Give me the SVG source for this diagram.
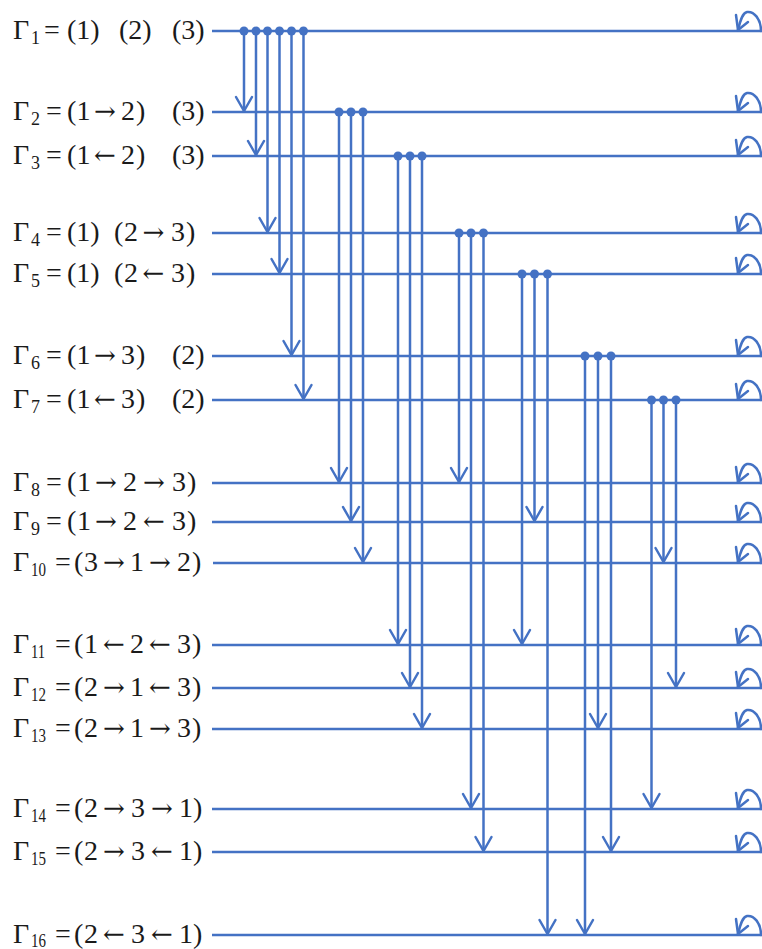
<svg xmlns="http://www.w3.org/2000/svg" width="762" height="949" viewBox="0 0 762 949">
<style>
.t{font-family:"Liberation Serif","Times New Roman",serif;font-size:28px;fill:#1a1a1a}
.s{font-family:"Liberation Serif","Times New Roman",serif;font-size:18px;fill:#1a1a1a}
.a{font-family:"DejaVu Serif","Liberation Serif",serif;font-size:26px}
.h{stroke:#4472C4;stroke-width:2.5;fill:none}
.v{stroke:#4472C4;stroke-width:2.5;fill:none;marker-end:url(#ah)}
.d{fill:#4472C4}
.lp{stroke:#4472C4;stroke-width:2.5;fill:none;stroke-linecap:round;stroke-linejoin:round}
</style>
<defs>
<marker id="ah" markerUnits="userSpaceOnUse" markerWidth="40" markerHeight="40" viewBox="-20 -20 40 40" refX="0" refY="0" orient="auto" overflow="visible">
<path d="M-14,-8 L0,0 L-14,8" fill="none" stroke="#4472C4" stroke-width="2.5" stroke-linejoin="round" stroke-linecap="round"/>
</marker>
<g id="loop">
<path class="lp" d="M761,0 C761,-12 754,-20 747,-19 C742,-18 740,-9 738,-1"/>
<path class="lp" d="M736,-16 L738,-1 L748,-9"/>
</g>
</defs>

<g id="G1">
<text class="t" x="13" y="38.5">Γ</text><text class="s" x="31" y="44">1</text>
<text class="t" x="44" y="38.5">=</text>
<text class="t" y="38.5"><tspan x="67">(1)</tspan><tspan x="119">(2)</tspan><tspan x="172">(3)</tspan></text>
<line class="h" x1="212" y1="31" x2="762" y2="31"/><use href="#loop" y="31"/>
</g>
<g id="G2">
<text class="t" x="13" y="119.5">Γ</text><text class="s" x="31" y="125">2</text>
<text class="t" x="46" y="119.5">=</text>
<text class="t" y="119.5"><tspan x="67">(</tspan><tspan x="76.5">1</tspan><tspan class="a" x="94">→</tspan><tspan x="121">2</tspan><tspan x="136">)</tspan><tspan x="172">(3)</tspan></text>
<line class="h" x1="212" y1="112" x2="762" y2="112"/><use href="#loop" y="112"/>
</g>
<g id="G3">
<text class="t" x="13" y="163.5">Γ</text><text class="s" x="31" y="169">3</text>
<text class="t" x="46" y="163.5">=</text>
<text class="t" y="163.5"><tspan x="67">(</tspan><tspan x="76.5">1</tspan><tspan class="a" x="94">←</tspan><tspan x="121">2</tspan><tspan x="136">)</tspan><tspan x="172">(3)</tspan></text>
<line class="h" x1="212" y1="156" x2="762" y2="156"/><use href="#loop" y="156"/>
</g>
<g id="G4">
<text class="t" x="13" y="240.5">Γ</text><text class="s" x="31" y="246">4</text>
<text class="t" x="46" y="240.5">=</text>
<text class="t" y="240.5"><tspan x="67">(1)</tspan><tspan x="114">(</tspan><tspan x="124">2</tspan><tspan class="a" x="142.5">→</tspan><tspan x="171">3</tspan><tspan x="186">)</tspan></text>
<line class="h" x1="212" y1="233" x2="762" y2="233"/><use href="#loop" y="233"/>
</g>
<g id="G5">
<text class="t" x="13" y="281.5">Γ</text><text class="s" x="31" y="287">5</text>
<text class="t" x="46" y="281.5">=</text>
<text class="t" y="281.5"><tspan x="67">(1)</tspan><tspan x="114">(</tspan><tspan x="124">2</tspan><tspan class="a" x="142.5">←</tspan><tspan x="171">3</tspan><tspan x="186">)</tspan></text>
<line class="h" x1="212" y1="274" x2="762" y2="274"/><use href="#loop" y="274"/>
</g>
<g id="G6">
<text class="t" x="13" y="363.5">Γ</text><text class="s" x="31" y="369">6</text>
<text class="t" x="46" y="363.5">=</text>
<text class="t" y="363.5"><tspan x="67">(</tspan><tspan x="76.5">1</tspan><tspan class="a" x="94">→</tspan><tspan x="121">3</tspan><tspan x="136">)</tspan><tspan x="172">(2)</tspan></text>
<line class="h" x1="212" y1="356" x2="762" y2="356"/><use href="#loop" y="356"/>
</g>
<g id="G7">
<text class="t" x="13" y="407.5">Γ</text><text class="s" x="31" y="413">7</text>
<text class="t" x="46" y="407.5">=</text>
<text class="t" y="407.5"><tspan x="67">(</tspan><tspan x="76.5">1</tspan><tspan class="a" x="94">←</tspan><tspan x="121">3</tspan><tspan x="136">)</tspan><tspan x="172">(2)</tspan></text>
<line class="h" x1="212" y1="400" x2="762" y2="400"/><use href="#loop" y="400"/>
</g>
<g id="G8">
<text class="t" x="13" y="490.5">Γ</text><text class="s" x="31" y="496">8</text>
<text class="t" x="46" y="490.5">=</text>
<text class="t" y="490.5"><tspan x="67">(</tspan><tspan x="77">1</tspan><tspan class="a" x="95">→</tspan><tspan x="123">2</tspan><tspan class="a" x="143">→</tspan><tspan x="172">3</tspan><tspan x="187">)</tspan></text>
<line class="h" x1="212" y1="483" x2="762" y2="483"/><use href="#loop" y="483"/>
</g>
<g id="G9">
<text class="t" x="13" y="529.5">Γ</text><text class="s" x="31" y="535">9</text>
<text class="t" x="46" y="529.5">=</text>
<text class="t" y="529.5"><tspan x="67">(</tspan><tspan x="77">1</tspan><tspan class="a" x="95">→</tspan><tspan x="123">2</tspan><tspan class="a" x="143">←</tspan><tspan x="172">3</tspan><tspan x="187">)</tspan></text>
<line class="h" x1="212" y1="522" x2="762" y2="522"/><use href="#loop" y="522"/>
</g>
<g id="G10">
<text class="t" x="13" y="570.5">Γ</text><text class="s" x="31" y="576" textLength="15" lengthAdjust="spacingAndGlyphs">10</text>
<text class="t" x="55" y="570.5">=</text>
<text class="t" y="570.5"><tspan x="74">(</tspan><tspan x="84">3</tspan><tspan class="a" x="103">→</tspan><tspan x="130">1</tspan><tspan class="a" x="149">→</tspan><tspan x="177">2</tspan><tspan x="192">)</tspan></text>
<line class="h" x1="213" y1="563" x2="762" y2="563"/><use href="#loop" y="563"/>
</g>
<g id="G11">
<text class="t" x="13" y="652.5">Γ</text><text class="s" x="31" y="658" textLength="14" lengthAdjust="spacingAndGlyphs">11</text>
<text class="t" x="55" y="652.5">=</text>
<text class="t" y="652.5"><tspan x="74">(</tspan><tspan x="84">1</tspan><tspan class="a" x="103">←</tspan><tspan x="130">2</tspan><tspan class="a" x="149">←</tspan><tspan x="177">3</tspan><tspan x="192">)</tspan></text>
<line class="h" x1="212" y1="645" x2="762" y2="645"/><use href="#loop" y="645"/>
</g>
<g id="G12">
<text class="t" x="13" y="695.5">Γ</text><text class="s" x="31" y="701" textLength="15" lengthAdjust="spacingAndGlyphs">12</text>
<text class="t" x="55" y="695.5">=</text>
<text class="t" y="695.5"><tspan x="74">(</tspan><tspan x="84">2</tspan><tspan class="a" x="103">→</tspan><tspan x="130">1</tspan><tspan class="a" x="149">←</tspan><tspan x="177">3</tspan><tspan x="192">)</tspan></text>
<line class="h" x1="212" y1="688" x2="762" y2="688"/><use href="#loop" y="688"/>
</g>
<g id="G13">
<text class="t" x="13" y="736.5">Γ</text><text class="s" x="31" y="742" textLength="15" lengthAdjust="spacingAndGlyphs">13</text>
<text class="t" x="55" y="736.5">=</text>
<text class="t" y="736.5"><tspan x="74">(</tspan><tspan x="84">2</tspan><tspan class="a" x="103">→</tspan><tspan x="130">1</tspan><tspan class="a" x="149">→</tspan><tspan x="177">3</tspan><tspan x="192">)</tspan></text>
<line class="h" x1="212" y1="729" x2="762" y2="729"/><use href="#loop" y="729"/>
</g>
<g id="G14">
<text class="t" x="13" y="816.5">Γ</text><text class="s" x="31" y="822" textLength="15" lengthAdjust="spacingAndGlyphs">14</text>
<text class="t" x="55" y="816.5">=</text>
<text class="t" y="816.5"><tspan x="74">(</tspan><tspan x="84">2</tspan><tspan class="a" x="103">→</tspan><tspan x="131">3</tspan><tspan class="a" x="151">→</tspan><tspan x="179">1</tspan><tspan x="193">)</tspan></text>
<line class="h" x1="212" y1="809" x2="762" y2="809"/><use href="#loop" y="809"/>
</g>
<g id="G15">
<text class="t" x="13" y="859.5">Γ</text><text class="s" x="31" y="865" textLength="15" lengthAdjust="spacingAndGlyphs">15</text>
<text class="t" x="55" y="859.5">=</text>
<text class="t" y="859.5"><tspan x="74">(</tspan><tspan x="84">2</tspan><tspan class="a" x="103">→</tspan><tspan x="131">3</tspan><tspan class="a" x="151">←</tspan><tspan x="179">1</tspan><tspan x="193">)</tspan></text>
<line class="h" x1="212" y1="852" x2="762" y2="852"/><use href="#loop" y="852"/>
</g>
<g id="G16">
<text class="t" x="13" y="942.5">Γ</text><text class="s" x="31" y="946.5" textLength="15" lengthAdjust="spacingAndGlyphs">16</text>
<text class="t" x="55" y="942.5">=</text>
<text class="t" y="942.5"><tspan x="74">(</tspan><tspan x="84">2</tspan><tspan class="a" x="103">←</tspan><tspan x="131">3</tspan><tspan class="a" x="151">←</tspan><tspan x="179">1</tspan><tspan x="193">)</tspan></text>
<line class="h" x1="212" y1="935" x2="762" y2="935"/><use href="#loop" y="935"/>
</g>

<g id="connectors">
<line class="v" x1="244" y1="31" x2="244" y2="111"/>
<line class="v" x1="256" y1="31" x2="256" y2="155"/>
<line class="v" x1="267.5" y1="31" x2="267.5" y2="232"/>
<line class="v" x1="279.5" y1="31" x2="279.5" y2="273"/>
<line class="v" x1="291.5" y1="31" x2="291.5" y2="355"/>
<line class="v" x1="303.5" y1="31" x2="303.5" y2="399"/>
<line class="v" x1="339" y1="112" x2="339" y2="482"/>
<line class="v" x1="351" y1="112" x2="351" y2="521"/>
<line class="v" x1="363" y1="112" x2="363" y2="562"/>
<line class="v" x1="398" y1="156" x2="398" y2="644"/>
<line class="v" x1="410" y1="156" x2="410" y2="687"/>
<line class="v" x1="422" y1="156" x2="422" y2="728"/>
<line class="v" x1="459" y1="233" x2="459" y2="482"/>
<line class="v" x1="471" y1="233" x2="471" y2="808"/>
<line class="v" x1="483.5" y1="233" x2="483.5" y2="851"/>
<line class="v" x1="522" y1="274" x2="522" y2="644"/>
<line class="v" x1="534.5" y1="274" x2="534.5" y2="521"/>
<line class="v" x1="547.5" y1="274" x2="547.5" y2="934"/>
<line class="v" x1="585" y1="356" x2="585" y2="934"/>
<line class="v" x1="598" y1="356" x2="598" y2="728"/>
<line class="v" x1="611" y1="356" x2="611" y2="851"/>
<line class="v" x1="651.5" y1="400" x2="651.5" y2="808"/>
<line class="v" x1="663.5" y1="400" x2="663.5" y2="562"/>
<line class="v" x1="676" y1="400" x2="676" y2="687"/>
<g class="d">
<circle cx="244" cy="31" r="4.5"/><circle cx="256" cy="31" r="4.5"/><circle cx="267.5" cy="31" r="4.5"/><circle cx="279.5" cy="31" r="4.5"/><circle cx="291.5" cy="31" r="4.5"/><circle cx="303.5" cy="31" r="4.5"/>
<circle cx="339" cy="112" r="4.5"/><circle cx="351" cy="112" r="4.5"/><circle cx="363" cy="112" r="4.5"/>
<circle cx="398" cy="156" r="4.5"/><circle cx="410" cy="156" r="4.5"/><circle cx="422" cy="156" r="4.5"/>
<circle cx="459" cy="233" r="4.5"/><circle cx="471" cy="233" r="4.5"/><circle cx="483.5" cy="233" r="4.5"/>
<circle cx="522" cy="274" r="4.5"/><circle cx="534.5" cy="274" r="4.5"/><circle cx="547.5" cy="274" r="4.5"/>
<circle cx="585" cy="356" r="4.5"/><circle cx="598" cy="356" r="4.5"/><circle cx="611" cy="356" r="4.5"/>
<circle cx="651.5" cy="400" r="4.5"/><circle cx="663.5" cy="400" r="4.5"/><circle cx="676" cy="400" r="4.5"/>
</g>
</g>
</svg>
